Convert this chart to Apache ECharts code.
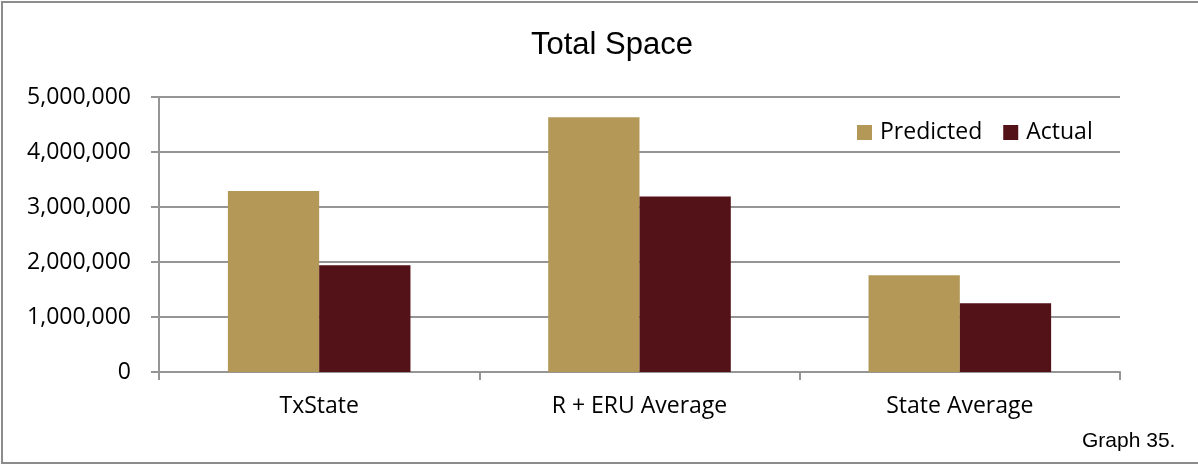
<!DOCTYPE html>
<html>
<head>
<meta charset="utf-8">
<script src="https://cdn.jsdelivr.net/npm/echarts@6/dist/echarts.min.js"></script>
<style>
  html, body { margin: 0; padding: 0; background: #fff; }
  #chart { width: 1198px; height: 466px; }
</style>
</head>
<body>
<div id="chart"></div>
<script>
// data
const categories = ["TxState", "R + ERU Average", "State Average"];
const predicted = [3290000, 4630000, 1760000];
const actual = [1940000, 3190000, 1250000];
const yTicks = [0, 1000000, 2000000, 3000000, 4000000, 5000000];

const gridColor = "#959595";
const labelFont = "'Open Sans', 'Noto Sans', sans-serif";

const chart = echarts.init(document.getElementById("chart"));
chart.setOption({
  backgroundColor: "#fff",
  animation: false,
  title: {
    text: "Total Space",
    left: 526,
    top: 25,
    textStyle: {
      fontFamily: "'Liberation Sans', Arial, sans-serif",
      fontSize: 31,
      fontWeight: "normal",
      color: "#000",
    },
  },
  legend: {
    data: ["Predicted", "Actual"],
    left: 852,
    top: 116,
    icon: "rect",
    itemWidth: 15,
    itemHeight: 15,
    itemGap: 21,
    textStyle: { fontFamily: labelFont, fontSize: 23, color: "#000", padding: [0, 0, 0, 3] },
  },
  grid: { left: 159, right: 78, top: 97, bottom: 94 },
  xAxis: {
    type: "category",
    data: categories,
    axisLine: { lineStyle: { color: gridColor, width: 2 } },
    axisTick: { show: true, length: 8, lineStyle: { color: gridColor, width: 2 } },
    axisLabel: { fontFamily: labelFont, fontSize: 23, color: "#000", margin: 23 },
  },
  yAxis: {
    type: "value",
    min: yTicks[0],
    max: yTicks[yTicks.length - 1],
    interval: yTicks[1] - yTicks[0],
    axisLine: { show: true, lineStyle: { color: gridColor, width: 2 } },
    axisTick: { show: true, length: 8, lineStyle: { color: gridColor, width: 2 } },
    splitLine: { lineStyle: { color: gridColor, width: 2 } },
    axisLabel: {
      fontFamily: labelFont,
      fontSize: 23,
      color: "#000",
      margin: 28,
      formatter: (v) => v.toLocaleString("en-US"),
    },
  },
  series: [
    {
      name: "Predicted",
      type: "bar",
      data: predicted,
      barGap: "0%",
      barCategoryGap: "43%",
      itemStyle: { color: "#b39858" },
    },
    {
      name: "Actual",
      type: "bar",
      data: actual,
      itemStyle: { color: "#521217" },
    },
  ],
  graphic: [
    {
      type: "polyline",
      shape: { points: [[1200, 2], [2, 2], [2, 463], [1200, 463]] },
      style: { stroke: "#8c8c8c", lineWidth: 2, fill: null },
      silent: true,
    },
    {
      type: "text",
      left: 1082,
      top: 431,
      style: {
        text: "Graph 35.",
        font: "21px 'Liberation Sans', Arial, sans-serif",
        fill: "#000",
      },
    },
  ],
});
</script>
</body>
</html>
